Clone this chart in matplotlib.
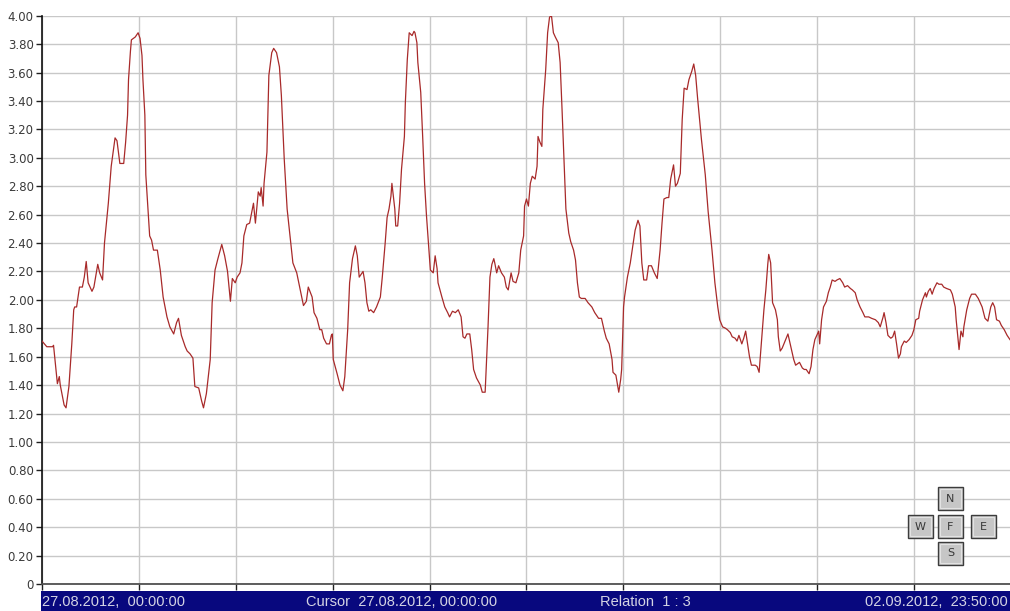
import matplotlib
matplotlib.use("Agg")
import matplotlib.pyplot as plt
from matplotlib.patches import Rectangle
import numpy as np

# 10-minute readings, 27.08.2012 00:00 (sample 0) .. 02.09.2012 23:50 (sample 1007)
sample = [
    0, 5, 11, 12, 16, 18, 19, 23, 25, 28,
    31, 33, 34, 36, 39, 42, 44, 46, 48, 52,
    54, 58, 60, 63, 65, 69, 72, 76, 78, 81,
    85, 87, 89, 90, 92, 93, 97, 100, 102, 104,
    105, 107, 108, 110, 112, 114, 116, 120, 123, 126,
    130, 133, 137, 140, 142, 145, 149, 151, 154, 157,
    159, 163, 166, 168, 171, 175, 177, 180, 183, 187,
    190, 193, 196, 198, 201, 203, 206, 208, 210, 213,
    216, 220, 222, 225, 227, 228, 230, 231, 234, 236,
    239, 241, 244, 247, 249, 252, 255, 258, 261, 265,
    268, 272, 275, 277, 281, 283, 286, 289, 291, 293,
    296, 299, 301, 302, 303, 307, 310, 313, 315, 318,
    320, 323, 326, 328, 330, 333, 334, 336, 338, 340,
    342, 345, 348, 352, 354, 357, 359, 361, 363, 364,
    367, 368, 370, 372, 374, 377, 378, 380, 382, 385,
    387, 388, 390, 391, 394, 396, 398, 400, 402, 404,
    407, 409, 411, 412, 416, 419, 422, 424, 427, 430,
    433, 436, 438, 440, 442, 445, 447, 449, 452, 456,
    458, 461, 463, 464, 466, 468, 470, 471, 473, 475,
    478, 481, 483, 485, 488, 490, 493, 496, 498, 501,
    502, 504, 506, 508, 510, 513, 515, 516, 518, 520,
    521, 524, 526, 528, 530, 532, 534, 537, 539, 541,
    543, 545, 548, 550, 553, 555, 557, 559, 561, 565,
    568, 572, 575, 579, 582, 585, 587, 590, 593, 594,
    597, 600, 602, 603, 605, 606, 609, 612, 614, 617,
    620, 622, 624, 626, 629, 631, 634, 637, 640, 643,
    645, 647, 650, 652, 654, 657, 659, 661, 664, 666,
    668, 671, 673, 676, 678, 680, 682, 686, 690, 693,
    697, 700, 703, 705, 708, 711, 713, 716, 718, 721,
    723, 725, 728, 730, 732, 734, 736, 738, 742, 744,
    746, 748, 751, 753, 755, 756, 758, 760, 763, 765,
    766, 768, 770, 773, 776, 779, 782, 784, 786, 788,
    791, 793, 795, 798, 800, 802, 804, 806, 808, 809,
    811, 813, 816, 818, 820, 822, 825, 827, 830, 833,
    835, 838, 841, 843, 846, 848, 851, 854, 856, 860,
    863, 867, 870, 872, 875, 876, 878, 880, 883, 885,
    887, 889, 891, 893, 894, 897, 899, 902, 905, 907,
    909, 912, 913, 916, 919, 920, 922, 924, 926, 928,
    931, 933, 936, 938, 941, 945, 947, 950, 951, 953,
    954, 956, 958, 959, 962, 965, 967, 971, 974, 978,
    981, 984, 987, 989, 991, 993, 996, 998, 1001, 1004,
    1006, 1007,
]
value = [
    1.71, 1.67, 1.67, 1.68, 1.41, 1.46, 1.40, 1.26, 1.24, 1.39,
    1.69, 1.93, 1.95, 1.95, 2.09, 2.09, 2.16, 2.27, 2.12, 2.06,
    2.09, 2.25, 2.19, 2.14, 2.40, 2.68, 2.94, 3.14, 3.12, 2.96,
    2.96, 3.11, 3.30, 3.55, 3.75, 3.83, 3.85, 3.88, 3.84, 3.72,
    3.55, 3.30, 2.88, 2.66, 2.45, 2.42, 2.35, 2.35, 2.21, 2.02,
    1.88, 1.81, 1.76, 1.84, 1.87, 1.75, 1.67, 1.64, 1.62, 1.59,
    1.39, 1.38, 1.29, 1.24, 1.34, 1.58, 1.98, 2.21, 2.29, 2.39,
    2.31, 2.20, 1.99, 2.15, 2.12, 2.16, 2.19, 2.26, 2.45, 2.53,
    2.54, 2.68, 2.54, 2.76, 2.73, 2.79, 2.66, 2.82, 3.04, 3.58,
    3.74, 3.77, 3.74, 3.64, 3.44, 2.99, 2.64, 2.45, 2.26, 2.19,
    2.09, 1.96, 1.99, 2.09, 2.02, 1.91, 1.87, 1.79, 1.79, 1.73,
    1.69, 1.69, 1.75, 1.76, 1.58, 1.48, 1.40, 1.36, 1.46, 1.79,
    2.12, 2.29, 2.38, 2.31, 2.16, 2.19, 2.20, 2.12, 1.98, 1.92,
    1.93, 1.91, 1.95, 2.02, 2.16, 2.40, 2.58, 2.64, 2.73, 2.82,
    2.64, 2.52, 2.52, 2.68, 2.92, 3.15, 3.39, 3.69, 3.88, 3.86,
    3.89, 3.88, 3.81, 3.67, 3.46, 3.15, 2.82, 2.59, 2.40, 2.21,
    2.19, 2.31, 2.22, 2.12, 2.02, 1.95, 1.91, 1.88, 1.92, 1.91,
    1.93, 1.88, 1.74, 1.73, 1.76, 1.76, 1.65, 1.51, 1.45, 1.40,
    1.35, 1.35, 1.65, 1.81, 2.16, 2.25, 2.29, 2.26, 2.19, 2.24,
    2.19, 2.16, 2.09, 2.07, 2.19, 2.13, 2.12, 2.19, 2.35, 2.45,
    2.66, 2.71, 2.66, 2.82, 2.87, 2.85, 2.94, 3.15, 3.11, 3.08,
    3.34, 3.62, 3.88, 3.99, 4.00, 3.88, 3.85, 3.81, 3.67, 3.34,
    2.99, 2.64, 2.47, 2.41, 2.35, 2.28, 2.12, 2.02, 2.01, 2.01,
    1.98, 1.95, 1.91, 1.87, 1.87, 1.78, 1.73, 1.69, 1.58, 1.49,
    1.47, 1.35, 1.44, 1.51, 1.95, 2.02, 2.16, 2.26, 2.35, 2.49,
    2.56, 2.52, 2.26, 2.14, 2.14, 2.24, 2.24, 2.19, 2.15, 2.35,
    2.54, 2.71, 2.72, 2.72, 2.85, 2.95, 2.80, 2.82, 2.89, 3.27,
    3.49, 3.48, 3.55, 3.61, 3.66, 3.58, 3.42, 3.13, 2.88, 2.62,
    2.35, 2.12, 1.95, 1.86, 1.81, 1.80, 1.79, 1.77, 1.74, 1.73,
    1.71, 1.75, 1.69, 1.73, 1.78, 1.69, 1.60, 1.54, 1.54, 1.53,
    1.49, 1.67, 1.93, 2.07, 2.25, 2.32, 2.26, 1.98, 1.93, 1.86,
    1.74, 1.64, 1.66, 1.71, 1.76, 1.67, 1.58, 1.54, 1.55, 1.56,
    1.52, 1.51, 1.51, 1.48, 1.53, 1.65, 1.72, 1.75, 1.78, 1.69,
    1.86, 1.95, 1.99, 2.05, 2.09, 2.14, 2.13, 2.14, 2.15, 2.12,
    2.09, 2.10, 2.08, 2.07, 2.05, 2.00, 1.95, 1.91, 1.88, 1.88,
    1.87, 1.86, 1.84, 1.81, 1.88, 1.91, 1.84, 1.75, 1.73, 1.74,
    1.78, 1.69, 1.59, 1.62, 1.67, 1.71, 1.70, 1.72, 1.75, 1.79,
    1.86, 1.87, 1.92, 2.00, 2.05, 2.02, 2.06, 2.08, 2.04, 2.08,
    2.12, 2.11, 2.11, 2.09, 2.08, 2.07, 2.04, 1.95, 1.86, 1.72,
    1.65, 1.78, 1.74, 1.81, 1.93, 2.01, 2.04, 2.04, 2.01, 1.95,
    1.87, 1.85, 1.95, 1.98, 1.95, 1.86, 1.85, 1.82, 1.79, 1.75,
    1.73, 1.72,
]
assert len(sample) == len(value)

y_ticks = [i * 0.2 for i in range(21)]
y_tick_labels = ["0"] + [f"{v:.2f}" for v in y_ticks[1:]]
x_ticks = [i * 100.8 for i in range(10)]

bar_left_text = "27.08.2012,  00:00:00"
bar_cursor_text = "Cursor  27.08.2012, 00:00:00"
bar_relation_text = "Relation  1 : 3"
bar_right_text = "02.09.2012,  23:50:00"
nav_buttons = ["N", "W", "F", "E", "S"]

W, H = 1010, 611
fig = plt.figure(figsize=(W / 100, H / 100), dpi=100)
fig.patch.set_facecolor("white")

ax = fig.add_axes([42 / W, 27 / H, 968 / W, 568.3 / H])
ax.plot(sample, value, color="#a82a2a", lw=0.9, zorder=3)
ax.set_xlim(0, 1007)
ax.set_ylim(0, 4)
ax.set_yticks(y_ticks)
ax.set_yticklabels(y_tick_labels, fontsize=8.5, color="#3a3a3a", family="DejaVu Sans")
ax.set_xticks(x_ticks)
ax.set_xticklabels([])
ax.grid(True, color="#c8c8c8", lw=1.0, zorder=0)
ax.tick_params(axis="both", direction="out", length=4, width=1, color="#202020", pad=2)
for s in ("top", "right"):
    ax.spines[s].set_visible(False)
ax.spines["left"].set_color("#101010")
ax.spines["left"].set_linewidth(1.2)
ax.spines["bottom"].set_color("#505050")
ax.spines["bottom"].set_linewidth(1.3)

# status bar along the bottom
bar = fig.add_axes([41 / W, 0, 969 / W, 20 / H])
bar.set_facecolor("#08087e")
bar.set_xlim(0, 969)
bar.set_ylim(0, 20)
bar.set_xticks([])
bar.set_yticks([])
for s in bar.spines.values():
    s.set_visible(False)
txt_kw = dict(fontsize=10.5, color="#d4d4e4", family="Liberation Sans", va="center")
bar.text(1, 9.5, bar_left_text, ha="left", **txt_kw)
bar.text(265.5, 9.5, bar_cursor_text, ha="left", **txt_kw)
bar.text(559, 9.5, bar_relation_text, ha="left", **txt_kw)
bar.text(967, 9.5, bar_right_text, ha="right", **txt_kw)

# navigation buttons (pixel boxes: left, top, right, bottom)
btn_boxes = {
    "N": (938, 487, 963, 510),
    "W": (908, 515, 933, 538),
    "F": (938, 515, 963, 538),
    "E": (971, 515, 996, 538),
    "S": (938, 542, 963, 565),
}
for key in nav_buttons:
    l, t, r, b = btn_boxes[key]
    fig.add_artist(Rectangle((l / W, (H - b) / H), (r - l) / W, (b - t) / H,
                             transform=fig.transFigure, facecolor="#c6c6c6",
                             edgecolor="#3c3c3c", lw=1.0, zorder=5))
    fig.add_artist(Rectangle(((l + 2) / W, (H - b + 2) / H), (r - l - 4) / W, (b - t - 4) / H,
                             transform=fig.transFigure, facecolor="none",
                             edgecolor="#e2e2e2", lw=0.8, zorder=6))
    fig.text((l + r) / 2 / W, (H - (t + b) / 2) / H, key, ha="center", va="center",
             fontsize=8, color="#383838", family="DejaVu Sans", zorder=7)

fig.savefig("out.png", dpi=100)
